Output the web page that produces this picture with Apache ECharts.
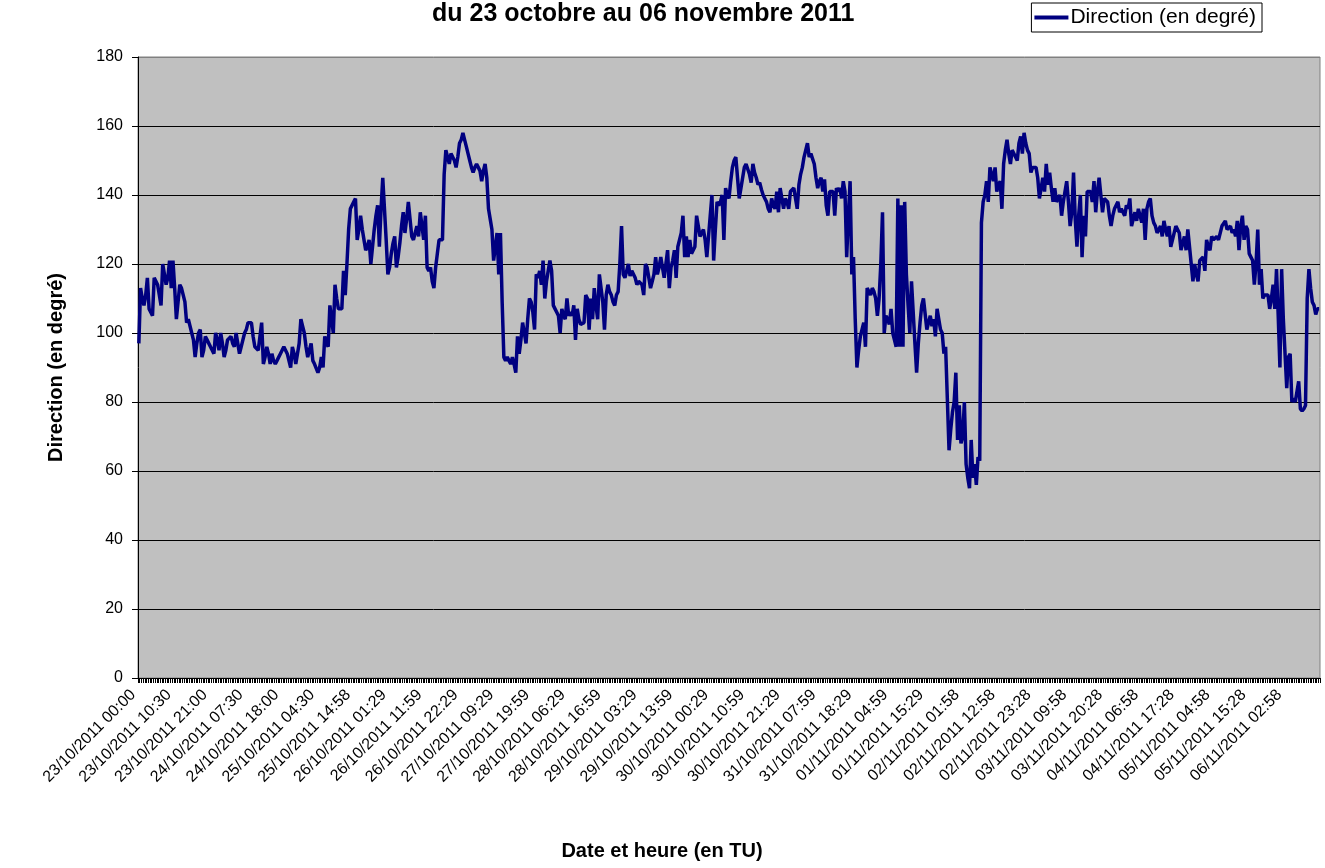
<!DOCTYPE html>
<html>
<head>
<meta charset="utf-8">
<title>Direction du vent</title>
<script src="https://cdn.jsdelivr.net/npm/echarts@6/dist/echarts.min.js"></script>
<style>
    html, body { margin: 0; padding: 0; background: #ffffff; }
    #chart { width: 1325px; height: 868px; }
</style>
</head>
<body>
<div id="chart"></div>
<script>
    // libellés de l'axe des x : un libellé toutes les 21 mesures (pas de 30 min)
    var tickLabels = [
        '23/10/2011 00:00', '23/10/2011 10:30', '23/10/2011 21:00', '24/10/2011 07:30',
        '24/10/2011 18:00', '25/10/2011 04:30', '25/10/2011 14:58', '26/10/2011 01:29',
        '26/10/2011 11:59', '26/10/2011 22:29', '27/10/2011 09:29', '27/10/2011 19:59',
        '28/10/2011 06:29', '28/10/2011 16:59', '29/10/2011 03:29', '29/10/2011 13:59',
        '30/10/2011 00:29', '30/10/2011 10:59', '30/10/2011 21:29', '31/10/2011 07:59',
        '31/10/2011 18:29', '01/11/2011 04:59', '01/11/2011 15:29', '02/11/2011 01:58',
        '02/11/2011 12:58', '02/11/2011 23:28', '03/11/2011 09:58', '03/11/2011 20:28',
        '04/11/2011 06:58', '04/11/2011 17:28', '05/11/2011 04:58', '05/11/2011 15:28',
        '06/11/2011 02:58'
    ];
    var labelStep = 21;

    var yTicks = [0, 20, 40, 60, 80, 100, 120, 140, 160, 180];

    // direction du vent (en degré), une valeur par mesure
    var directionValues = [
        97, 113, 110, 108, 111, 116, 107, 106, 105, 116,
        115, 114, 111, 108, 120, 117, 114, 116, 121, 113,
        121, 113, 104, 109, 114, 113, 113, 109, 103, 104,
        104, 100, 98, 93, 97, 100, 101, 93, 95, 99,
        98, 97, 97, 95, 94, 100, 98, 95, 100, 97,
        93, 95, 98, 98, 99, 97, 96, 100, 97, 94,
        96, 98, 100, 101, 103, 103, 103, 99, 96, 96,
        95, 99, 103, 91, 93, 96, 94, 91, 94, 92,
        91, 92, 93, 94, 95, 96, 95, 94, 92, 90,
        96, 94, 91, 94, 97, 104, 102, 100, 96, 93,
        95, 97, 92, 91, 91, 88.5, 90, 93, 90, 99,
        97, 96, 108, 104, 100, 114, 110, 107, 107, 107,
        118, 111, 120, 130, 136, 137, 138, 139, 127, 130,
        134, 130, 127, 124, 125, 127, 120, 125, 130, 134,
        137, 125, 136, 145, 136, 127, 117, 119, 123, 126,
        128, 119, 122, 126, 131, 135, 129, 133, 138, 133,
        128, 127, 129, 131, 128, 135, 131, 127, 134,
        119, 118, 119, 115, 113, 119, 123, 127, 127, 127,
        146, 153, 151, 149, 152, 151, 150, 148, 151, 155,
        156, 158, 156, 154, 152, 150, 148, 146.5, 148, 149,
        148, 147, 144, 147, 149, 145, 136, 133, 130, 121,
        125, 129, 117, 129, 109, 93, 92, 93, 92, 91,
        93, 91, 88.5, 99, 94, 98, 103, 100, 97, 104,
        110, 109, 106, 101, 117, 116, 118, 114, 121, 110,
        115, 118, 121, 118, 108, 107, 106, 105, 100, 107,
        105, 104, 110, 105, 106, 105, 108, 98, 107, 104,
        102.5, 103, 103, 111, 110, 101, 110, 104, 113, 108,
        104, 117, 117, 109, 101, 111, 114, 112, 111, 109,
        108, 111, 112, 120, 131, 117, 116, 118, 120, 116.5,
        118, 117, 116, 114, 115, 115, 114, 111, 120, 119,
        118.5, 113, 115, 117, 122, 117, 119, 122, 119, 116,
        120, 124, 113, 119, 121, 124, 116, 125, 125, 129,
        134, 122, 128, 122, 127, 123, 124, 125, 134,
        131, 128, 129, 130, 127, 122, 128, 134, 140, 121,
        130, 138, 137, 138, 140, 127, 142, 140, 139, 144,
        148, 150, 151, 145, 139, 142, 145, 148, 149, 149,
        146, 143.6, 149, 146.5, 145, 143, 143.6, 141.6, 140, 139,
        138, 136, 135, 139, 137, 136, 141, 135, 142, 139,
        136, 139, 138, 136, 141, 141, 142, 139, 136, 143,
        146, 148, 151, 153, 155, 151, 152, 152, 149, 145,
        142, 144, 145, 141, 144.5, 137, 134, 141, 141, 141,
        134, 142, 141, 142, 139, 144, 141, 122, 134, 144,
        117, 122, 104, 90, 95, 99, 99, 103, 96, 113,
        112, 111, 113, 112, 110, 105, 110, 120, 135, 100,
        105, 104, 102.5, 107, 100, 98, 96, 139, 96, 137,
        96, 138, 117, 108, 100, 115, 106, 97, 88.5, 97,
        103, 108, 110, 110, 101, 103, 105, 102, 104, 99,
        107, 104, 101, 100, 94, 96, 81, 66, 72, 77,
        80, 88.5, 69, 79, 68, 70, 80, 62, 58,
        55, 69, 58, 62, 56, 64, 63, 132, 138, 140,
        144, 138, 148, 146, 144, 148, 141, 143, 144, 136,
        149, 153, 156, 152, 149, 153, 153, 151, 150, 155,
        157, 152, 158, 155, 153, 152, 146.5, 148, 148.4, 148,
        145, 139, 142, 145, 141, 149, 143, 146.5, 142, 138,
        142, 138, 139, 140, 134, 138, 141, 144, 138, 131,
        135, 146.5, 133, 125, 134, 140, 122, 134, 128, 141,
        141, 141, 138, 144, 135, 141, 145, 140, 135, 139,
        139, 138, 134, 131, 134, 136, 136, 138, 135, 136,
        135, 134, 137, 136, 139, 131, 133, 135, 132.5, 136,
        134, 132, 136, 127, 136, 138, 139, 134, 132, 131,
        129, 130, 131, 128, 132.5, 130, 128, 131, 125, 127,
        129, 131, 130, 129, 124, 126, 128, 124, 130, 125,
        120, 115, 120, 117, 115, 121, 121, 122, 118, 127,
        125, 124, 128, 127, 127, 128, 127, 127, 131, 131,
        132.5, 130, 130, 131, 129, 130, 128, 132.5, 124,
        131, 134, 127, 131, 130, 123, 122, 121, 114, 120,
        130, 114, 118.5, 110, 111, 111, 111, 107, 110, 114,
        107, 118.5, 105, 90, 118.5, 104, 94, 84, 93, 94,
        80, 81, 80, 83, 86, 78, 77.4, 78, 79, 110,
        118.5, 113, 109, 108, 105.4, 107, 107
    ];

    var categories = directionValues.map(function (v, i) {
        return i % labelStep === 0 ? tickLabels[i / labelStep] : '';
    });

    var fontName = 'Liberation Sans, Arial, sans-serif';

    // ligne de quadrillage du haut en gris (bord du cadre), les autres en noir
    var gridColors = yTicks.map(function (t, i) {
        return i === yTicks.length - 1 ? '#808080' : '#000000';
    });

    var chart = echarts.init(document.getElementById('chart'));
    var option = {
        animation: false,
        backgroundColor: '#ffffff',
        textStyle: { fontFamily: fontName, color: '#000' },
        title: {
            text: 'du 23 octobre au 06 novembre 2011',
            left: 432,
            top: 2,
            padding: 0,
            textStyle: { fontFamily: fontName, fontSize: 25, fontWeight: 'bold', color: '#000' }
        },
        legend: {
            data: [{ name: 'Direction (en degré)', icon: 'rect' }],
            right: 63,
            top: 3,
            padding: [4, 6, 4, 3],
            backgroundColor: '#ffffff',
            borderColor: '#000000',
            borderWidth: 1,
            borderRadius: 0,
            itemWidth: 34,
            itemHeight: 4,
            itemStyle: { color: '#000080' },
            textStyle: { fontFamily: fontName, fontSize: 21, color: '#000', padding: [0, 0, 0, -3] }
        },
        grid: {
            left: 138,
            right: 5,
            top: 57,
            bottom: 190,
            show: true,
            backgroundColor: '#C0C0C0',
            borderColor: '#808080',
            borderWidth: 1
        },
        xAxis: {
            type: 'category',
            data: categories,
            boundaryGap: true,
            name: 'Date et heure (en TU)',
            nameLocation: 'middle',
            nameGap: 163,
            nameTextStyle: {
                fontFamily: fontName, fontSize: 20, fontWeight: 'bold', color: '#000',
                padding: [0, 134, 0, 0]
            },
            axisLine: { lineStyle: { color: '#000', width: 1 } },
            axisTick: { show: true, interval: 0, length: 5, lineStyle: { color: '#000', width: 1 } },
            axisLabel: {
                interval: labelStep - 1,
                rotate: 45,
                margin: 20,
                verticalAlign: 'bottom',
                fontFamily: fontName,
                fontSize: 16,
                color: '#000'
            },
            splitLine: { show: false }
        },
        yAxis: {
            type: 'value',
            min: 0,
            max: 180,
            interval: 20,
            name: 'Direction (en degré)',
            nameLocation: 'middle',
            nameGap: 72,
            nameTextStyle: { fontFamily: fontName, fontSize: 20, fontWeight: 'bold', color: '#000' },
            axisLine: { show: true, lineStyle: { color: '#000', width: 1 } },
            axisTick: { show: true, length: 6, lineStyle: { color: '#000' } },
            axisLabel: { margin: 15, fontFamily: fontName, fontSize: 16, color: '#000' },
            splitLine: { show: true, lineStyle: { color: gridColors, width: 1 } }
        },
        series: [
            {
                name: 'Direction (en degré)',
                type: 'line',
                data: directionValues,
                symbol: 'none',
                showSymbol: false,
                smooth: false,
                lineStyle: { color: '#000080', width: 3.5 },
                itemStyle: { color: '#000080' }
            }
        ]
    };
    chart.setOption(option);
</script>
</body>
</html>
